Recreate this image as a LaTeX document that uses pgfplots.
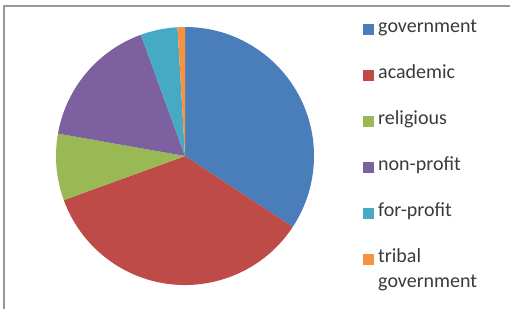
\documentclass[border=0pt]{standalone}
\usepackage{pgfplots}
\pgfplotsset{compat=1.18}
\usepackage{fontspec}
\setmainfont{Carlito}
\definecolor{cgov}{HTML}{4A7EBB}
\definecolor{cacad}{HTML}{BE4B48}
\definecolor{crel}{HTML}{98B954}
\definecolor{cnon}{HTML}{7D60A0}
\definecolor{cfor}{HTML}{46AAC5}
\definecolor{ctrib}{HTML}{F69240}
\definecolor{ctext}{HTML}{3A3A3A}
% data: counts per sector
\def\vGov{37}
\def\vAcad{38}
\def\vRel{9}
\def\vNon{18}
\def\vFor{5}
\def\vTrib{1}
\pgfmathsetmacro\vTot{\vGov+\vAcad+\vRel+\vNon+\vFor+\vTrib}
\pgfmathsetmacro\aA{90}
\pgfmathsetmacro\aB{\aA-360*\vGov/\vTot}
\pgfmathsetmacro\aC{\aB-360*\vAcad/\vTot}
\pgfmathsetmacro\aD{\aC-360*\vRel/\vTot}
\pgfmathsetmacro\aE{\aD-360*\vNon/\vTot}
\pgfmathsetmacro\aF{\aE-360*\vFor/\vTot}
\pgfmathsetmacro\aG{\aF-360*\vTrib/\vTot}
\newcommand\slice[3]{\fill[#3] (axis cs:185,152) -- ++(#1:129pt) arc[start angle=#1,end angle=#2,radius=129pt] -- cycle;}
\newcommand\legtext[2]{%
  \node[anchor=base west,inner sep=0pt,text=ctext,font=\fontsize{20}{25}\selectfont] at (axis cs:378,#1-4.7) {#2};}
\newcommand\legitem[3]{%
  \fill[#2] (axis cs:362.5,#1-7) rectangle (axis cs:373.5,#1+4);
  \legtext{#1}{#3}}
\begin{document}
\begin{tikzpicture}
\begin{axis}[width=510pt,height=308pt,scale only axis,hide axis,
  xmin=0,xmax=510,ymin=0,ymax=308,clip=false]
\slice{\aA}{\aB}{cgov}
\slice{\aB}{\aC}{cacad}
\slice{\aC}{\aD}{crel}
\slice{\aD}{\aE}{cnon}
\slice{\aE}{\aF}{cfor}
\slice{\aF}{\aG}{ctrib}
\legitem{279.7}{cgov}{government}
\legitem{234}{cacad}{academic}
\legitem{188}{crel}{religious}
\legitem{142.3}{cnon}{non-profit}
\legitem{96.3}{cfor}{for-profit}
\legitem{50.3}{ctrib}{tribal}
\legtext{25.3}{government}
\draw[line width=1.5pt,color=black!40] (axis cs:4,-2) -- (axis cs:4,302) -- (axis cs:512,302);
\end{axis}
\pgfresetboundingbox
\path[use as bounding box] (0,0) rectangle (510pt,308pt);
\end{tikzpicture}
\end{document}
